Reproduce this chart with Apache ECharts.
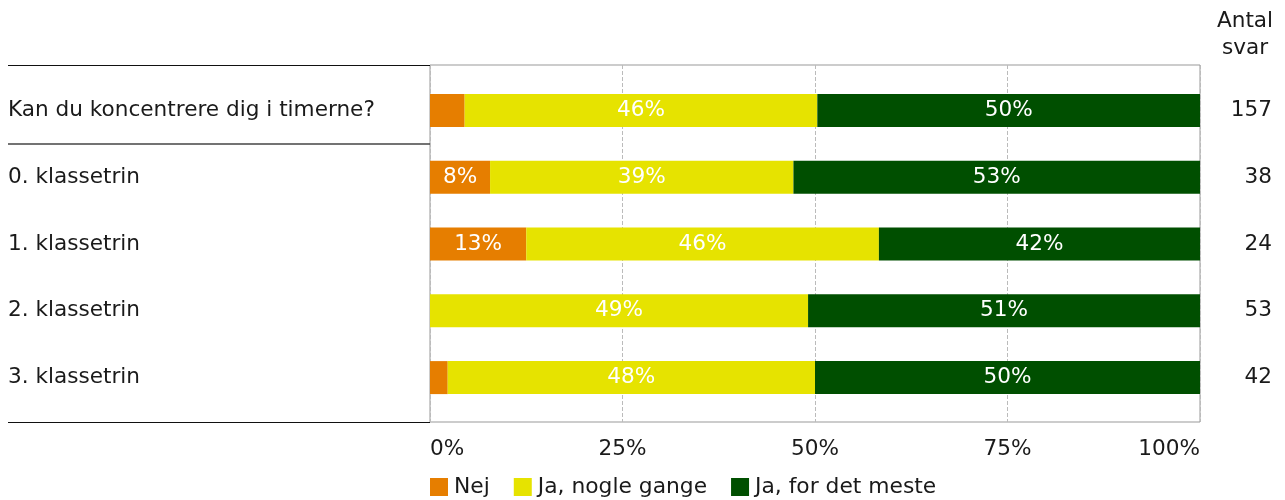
<!DOCTYPE html>
<html>
<head>
<meta charset="utf-8">
<script src="https://cdn.jsdelivr.net/npm/echarts@6/dist/echarts.min.js"></script>
<style>html,body{margin:0;padding:0;background:#fff}#c{width:1285px;height:500px}</style>
</head>
<body>
<div id="c"></div>
<script>
const categories = ['Kan du koncentrere dig i timerne?', '0. klassetrin', '1. klassetrin', '2. klassetrin', '3. klassetrin'];
const nej = [4.5, 7.8, 12.5, 0, 2.3];
const nogle = [45.8, 39.4, 45.8, 49.1, 47.7];
const meste = [49.7, 52.8, 41.7, 50.9, 50.0];
const counts = ['157', '38', '24', '53', '42'];
const seriesNames = ['Nej', 'Ja, nogle gange', 'Ja, for det meste'];
const colors = ['#E67E00', '#E6E300', '#004F00'];
const xTicks = [0, 25, 50, 75, 100];

const font = '"DejaVu Sans", Verdana, sans-serif';
const txt = '#1a1a1a';
const fs = 21.6;

const chart = echarts.init(document.getElementById('c'));

function barSeries(name, data, color) {
  return {
    name: name, type: 'bar', stack: 'total', xAxisIndex: 1, yAxisIndex: 1,
    data: data, barWidth: 33, itemStyle: { color: color },
    label: {
      show: true, position: 'inside', color: '#fff', fontSize: fs, fontFamily: font,
      formatter: p => p.value >= 5 ? Math.round(p.value) + '%' : ''
    },
    emphasis: { disabled: true }
  };
}

chart.setOption({
  animation: false,
  textStyle: { fontFamily: font },
  legend: {
    left: 430, top: 476, padding: 0, itemWidth: 18, itemHeight: 18, itemGap: 24, icon: 'rect',
    textStyle: { fontSize: 21.8, color: txt, fontFamily: font, padding: [0, 0, 0, 1] },
    data: seriesNames
  },
  grid: [
    { left: 430, right: 85, top: 65, bottom: 78, show: true, borderColor: '#999', borderWidth: 1 },
    { left: 430, right: 85, top: 77, bottom: 89 }
  ],
  xAxis: [
    {
      gridIndex: 0, type: 'value', min: 0, max: 100, interval: 25,
      axisLine: { show: false }, axisTick: { show: false },
      splitLine: { show: true, lineStyle: { type: 'dashed', color: '#bbb' } },
      axisLabel: {
        fontSize: fs, color: txt, fontFamily: font, margin: 16,
        alignMinLabel: 'left', alignMaxLabel: 'right',
        formatter: v => xTicks.includes(v) ? v + '%' : ''
      }
    },
    { gridIndex: 1, type: 'value', min: 0, max: 100, show: false }
  ],
  yAxis: [
    { gridIndex: 0, type: 'value', show: false },
    {
      gridIndex: 1, type: 'category', data: categories, inverse: true,
      axisLine: { show: false }, axisTick: { show: false },
      axisLabel: { fontSize: fs, color: txt, fontFamily: font, align: 'left', margin: 422 }
    },
    {
      gridIndex: 1, type: 'category', data: counts, inverse: true, position: 'right',
      axisLine: { show: false }, axisTick: { show: false },
      axisLabel: { fontSize: fs, color: txt, fontFamily: font, align: 'right', margin: 72 }
    }
  ],
  graphic: [
    { type: 'text', x: 1245, y: 8, style: { text: 'Antal\nsvar', fontSize: fs, fontFamily: font, fill: txt, align: 'center', lineHeight: 27 } },
    { type: 'line', shape: { x1: 8, y1: 65.5, x2: 430, y2: 65.5 }, style: { stroke: '#111', lineWidth: 1 } },
    { type: 'line', shape: { x1: 8, y1: 144, x2: 430, y2: 144 }, style: { stroke: '#444', lineWidth: 1.5 } },
    { type: 'line', shape: { x1: 8, y1: 422.5, x2: 430, y2: 422.5 }, style: { stroke: '#111', lineWidth: 1 } }
  ],
  series: [
    barSeries(seriesNames[0], nej, colors[0]),
    barSeries(seriesNames[1], nogle, colors[1]),
    barSeries(seriesNames[2], meste, colors[2])
  ]
});
</script>
</body>
</html>
